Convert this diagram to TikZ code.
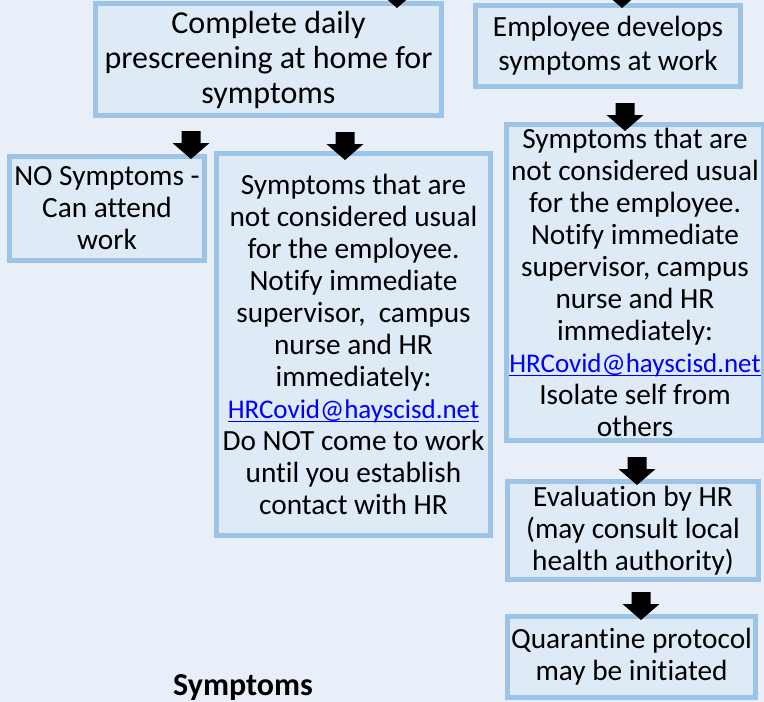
\documentclass[tikz,border=0pt]{standalone}
\usepackage{fontspec}
\setmainfont{Carlito}[Ligatures={NoCommon}]
\definecolor{bgcol}{RGB}{232,239,248}
\definecolor{boxfill}{RGB}{222,234,246}
\definecolor{boxline}{RGB}{157,195,230}
\definecolor{linkblue}{RGB}{0,0,255}
\newcommand{\hrlink}{{\fontsize{27}{32}\selectfont\color{linkblue}\setbox0\hbox{HRCovid@hayscisd.net}\rlap{\rule[-3.8pt]{\wd0}{1.2pt}}\box0}}
\begin{document}
\begin{tikzpicture}[x=1pt,y=-1pt,
  flowbox/.style={draw=boxline, fill=boxfill, line width=5pt, align=center,
    inner sep=0pt, font=\fontsize{29.3}{32}\selectfont},
  bigbox/.style={flowbox, font=\fontsize{32}{35}\selectfont},
  blockarr/.pic={\fill[black] (-9.5,-28) -- (9.5,-28) -- (9.5,-16) -- (18.5,-16)
      -- (0,0) -- (-18.5,-16) -- (-9.5,-16) -- cycle;}]
\useasboundingbox (0,0) rectangle (764,702);
\fill[bgcol] (0,0) rectangle (764,702);

\node[bigbox, minimum width=346pt, minimum height=112pt] (b1) at (268.5,59.5)
  {Complete daily\\prescreening at home for\\symptoms};
\node[flowbox, font=\fontsize{29.3}{34}\selectfont, minimum width=265pt, minimum height=81pt] (b2) at (608,46)
  {Employee develops\\symptoms at work};
\node[flowbox, minimum width=257pt, minimum height=316pt] (b3) at (635,282.5)
  {Symptoms that are\\not considered usual\\for the employee.\\Notify immediate\\supervisor, campus\\nurse and HR\\immediately:\\\hrlink\\Isolate self from\\others};
\node[flowbox, minimum width=251pt, minimum height=98pt] (b4) at (633,530.5)
  {Evaluation by HR\\(may consult local\\health authority)};
\node[flowbox, minimum width=248pt, minimum height=81pt] (b5) at (631.5,657)
  {Quarantine protocol\\may be initiated};
\node[flowbox, minimum width=195pt, minimum height=104pt] (b6) at (107,208.5)
  {NO Symptoms -\\Can attend\\work};
\node[flowbox, minimum width=274pt, minimum height=382pt] (b7) at (353.5,344.5)
  {Symptoms that are\\not considered usual\\for the employee.\\Notify immediate\\supervisor,\ \ campus\\nurse and HR\\immediately:\\\hrlink\\Do NOT come to work\\until you establish\\contact with HR};

\node[anchor=base, font=\bfseries\fontsize{32}{38}\selectfont] (symp) at (243,695) {Symptoms};

\pic at ([shift={(128.5,7)}]b1.north) {blockarr};
\pic at ([shift={(14,5)}]b2.north) {blockarr};
\pic at ([shift={(84,5)}]b6.north) {blockarr};
\pic at ([shift={(-8.5,9)}]b7.north) {blockarr};
\pic at ([shift={(-10,9)}]b3.north) {blockarr};
\pic at ([shift={(4,6)}]b4.north) {blockarr};
\pic at ([shift={(9.5,6)}]b5.north) {blockarr};
\end{tikzpicture}
\end{document}
